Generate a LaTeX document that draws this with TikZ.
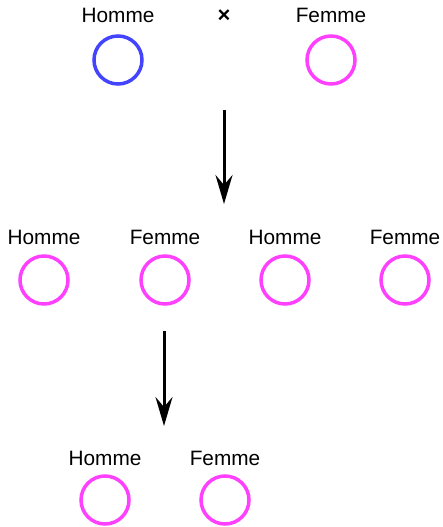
\documentclass[tikz,border=0pt]{standalone}
\usepackage{fontspec}
\setmainfont{Liberation Sans}
\usetikzlibrary{arrows.meta}
\definecolor{hblue}{RGB}{68,68,255}
\definecolor{fpink}{RGB}{255,64,255}
\begin{document}
\begin{tikzpicture}[x=1pt,y=-1pt,
  indiv/.style={circle,draw=#1,line width=3.5pt,minimum size=48pt,inner sep=0pt},
  lbl/.style={font=\fontsize{20.8}{24}\selectfont,inner sep=0pt,anchor=base},
  arr/.style={line width=3pt,-{Stealth[length=29pt,width=17pt,inset=10pt]}}]
\useasboundingbox (0,0) rectangle (443,527);
% generation 1
\node[indiv=hblue] (p1) at (118,60) {};
\node[indiv=fpink] (p2) at (331,60) {};
\node[lbl] (l1) at (118,23) {Homme};
\node[lbl] (l2) at (331,23) {Femme};
\node[lbl,font=\fontsize{22}{24}\selectfont\bfseries] (x) at (224,23) {×};
% arrow 1
\coordinate (a1s) at (224,110);
\coordinate (a1e) at (224,204);
\draw[arr] (a1s) -- (a1e);
% generation 2
\node[indiv=fpink] (c1) at (44,280) {};
\node[indiv=fpink] (c2) at (165,280) {};
\node[indiv=fpink] (c3) at (285,280) {};
\node[indiv=fpink] (c4) at (405,280) {};
\node[lbl] (m1) at (44,244) {Homme};
\node[lbl] (m2) at (165,244) {Femme};
\node[lbl] (m3) at (285,244) {Homme};
\node[lbl] (m4) at (405,244) {Femme};
% arrow 2
\coordinate (a2s) at (164,331);
\coordinate (a2e) at (164,426);
\draw[arr] (a2s) -- (a2e);
% generation 3
\node[indiv=fpink] (g1) at (105,500) {};
\node[indiv=fpink] (g2) at (225,500) {};
\node[lbl] (n1) at (105,465) {Homme};
\node[lbl] (n2) at (225,465) {Femme};
\end{tikzpicture}
\end{document}
